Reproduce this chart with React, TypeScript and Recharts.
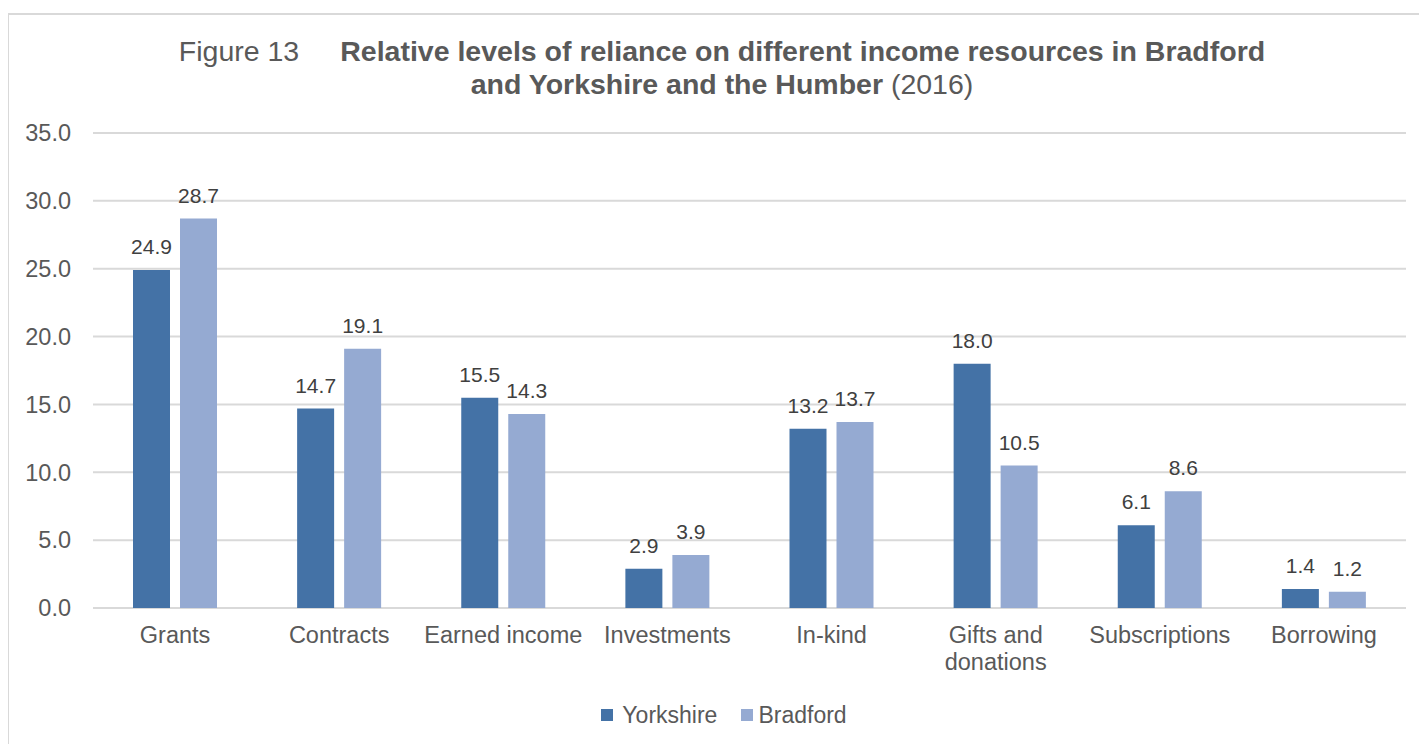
import React from 'react';
import { BarChart, Bar, XAxis, YAxis, CartesianGrid, LabelList, Legend } from 'recharts';

const categories = ['Grants', 'Contracts', 'Earned income', 'Investments', 'In-kind', 'Gifts and donations', 'Subscriptions', 'Borrowing'];
const tickLabels = [['Grants'], ['Contracts'], ['Earned income'], ['Investments'], ['In-kind'], ['Gifts and', 'donations'], ['Subscriptions'], ['Borrowing']];
const yorkshire = [24.9, 14.7, 15.5, 2.9, 13.2, 18.0, 6.1, 1.4];
const bradford = [28.7, 19.1, 14.3, 3.9, 13.7, 10.5, 8.6, 1.2];
const yTicks = [0, 5, 10, 15, 20, 25, 30, 35];
const seriesNames = ['Yorkshire', 'Bradford'];
const seriesColors = ['#4472A6', '#95AAD2'];

const data = categories.map((c, i) => ({ name: c, Yorkshire: yorkshire[i], Bradford: bradford[i] }));

const FONT = '"Liberation Sans", Arial, sans-serif';

const CatTick = (props: any) => {
  const { x, y, payload } = props;
  const idx = categories.indexOf(payload.value);
  const lines = idx >= 0 ? tickLabels[idx] : [String(payload.value)];
  return (
    <text x={x} y={y + 35.2} textAnchor="middle" fontSize={23.5} fill="#595959" fontFamily={FONT}>
      {lines.map((l, i) => (
        <tspan key={i} x={x} dy={i === 0 ? 0 : 27}>{l}</tspan>
      ))}
    </text>
  );
};

const LegendContent = () => (
  <div style={{ display: 'flex', justifyContent: 'center', alignItems: 'center', height: 30, fontFamily: FONT, fontSize: 23, color: '#595959' }}>
    {seriesNames.map((n, i) => (
      <div key={n} style={{ display: 'flex', alignItems: 'center', marginLeft: i === 0 ? 0 : 24 }}>
        <span style={{ display: 'inline-block', width: 12, height: 12, background: seriesColors[i], marginRight: i === 0 ? 9 : 5 }} />
        <span>{n}</span>
      </div>
    ))}
  </div>
);

export default function App() {
  return (
    <div style={{ position: 'relative', width: 1419, height: 736, overflow: 'hidden', fontFamily: FONT }}>
      <div style={{ position: 'absolute', left: -1, top: 5, width: 1440, height: 800, border: '2px solid #D9D9D9', boxSizing: 'border-box' }} />
      <div style={{ position: 'absolute', left: 0, top: 27, width: 1428, textAlign: 'center', fontSize: 28.5, lineHeight: '33px', color: '#595959', whiteSpace: 'nowrap' }}>
        <span>Figure 13</span>
        <span style={{ display: 'inline-block', width: 41 }} />
        <b style={{ color: '#595959' }}>Relative levels of reliance on different income resources in Bradford</b>
        <br />
        <b>and Yorkshire and the Humber</b> (2016)
      </div>
      <div style={{ position: 'absolute', left: 0, top: 0 }}>
        <BarChart
          width={1419}
          height={736}
          data={data}
          margin={{ top: 125, right: 21, bottom: 0, left: 0 }}
          barSize={37}
          barGap={10}
        >
          <CartesianGrid vertical={false} stroke="#D9D9D9" strokeWidth={2} />
          <XAxis
            dataKey="name"
            axisLine={false}
            tickLine={false}
            tickSize={0}
            tickMargin={0}
            height={136}
            interval={0}
            tick={<CatTick />}
          />
          <YAxis
            width={85}
            domain={[0, 35]}
            ticks={yTicks}
            axisLine={false}
            tickLine={false}
            tickSize={0}
            tickMargin={22}
            tickFormatter={(v: number) => v.toFixed(1)}
            tick={{ fontSize: 23.5, fill: '#595959', fontFamily: FONT }}
          />
          <Legend
            layout="horizontal"
            verticalAlign="middle"
            align="center"
            wrapperStyle={{ top: 692, left: 16, width: 1400, height: 30 }}
            content={<LegendContent />}
          />
          {seriesNames.map((n, i) => (
            <Bar key={n} dataKey={n} fill={seriesColors[i]} isAnimationActive={false}>
              <LabelList
                dataKey={n}
                position="top"
                offset={16}
                formatter={(v: any) => Number(v).toFixed(1)}
                style={{ fontSize: 21, fill: '#404040', fontFamily: FONT }}
              />
            </Bar>
          ))}
        </BarChart>
      </div>
    </div>
  );
}
